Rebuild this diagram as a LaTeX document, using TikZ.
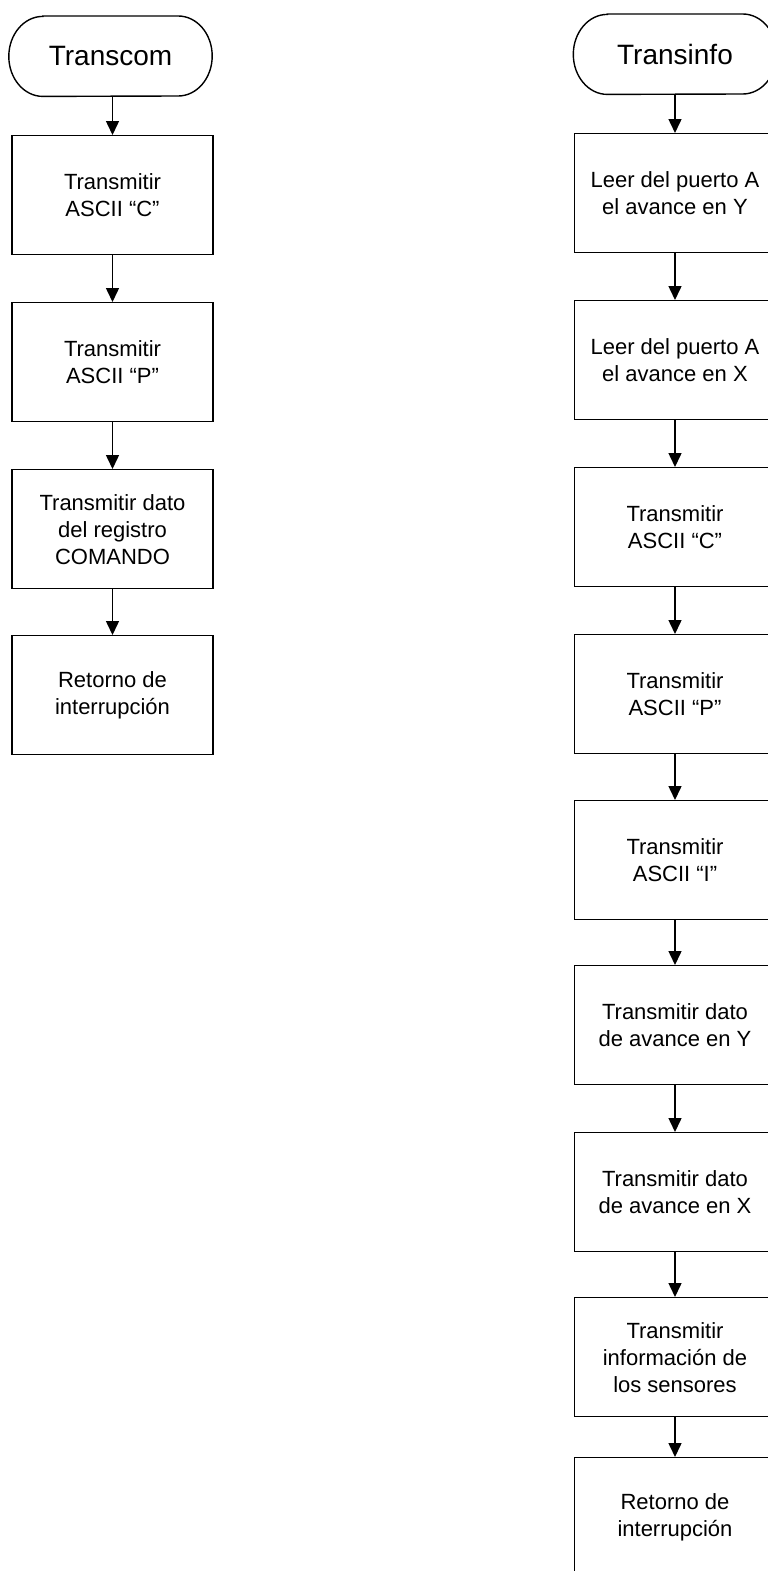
\documentclass[tikz,border=0pt]{standalone}
\usepackage{fontspec}
\setmainfont{Liberation Sans}
\usetikzlibrary{arrows.meta}
\begin{document}
\begin{tikzpicture}[x=1pt,y=-1pt,
  stepbox/.style={draw, line width=1.4pt, minimum width=201pt, minimum height=119pt,
    inner sep=0pt, anchor=north, align=center,
    font=\fontsize{22}{27}\selectfont},
  termbox/.style={minimum width=203pt, minimum height=80pt, inner sep=0pt,
    anchor=north, font=\fontsize{28}{30}\selectfont},
  termline/.style={line width=1.4pt},
  flow/.style={line width=1.5pt, -{Triangle[length=14pt,width=13pt]}}]
\useasboundingbox (0,0) rectangle (768,1571);
\clip (0,0) rectangle (768,1571);
\fill[white] (0,0) rectangle (768,1571);

% Transcom routine
\node[termbox] (t1) at (110.5,16) {Transcom};
\draw[termline] ([xshift=34pt]t1.north west) -- ([xshift=-34pt]t1.north east)
  arc[start angle=90, end angle=-90, x radius=34pt, y radius=40pt]
  -- ([xshift=34pt]t1.south west)
  arc[start angle=270, end angle=90, x radius=34pt, y radius=40pt] -- cycle;
\node[stepbox] (l1) at (112.5,135) {Transmitir\\ASCII “C”};
\node[stepbox] (l2) at (112.5,302) {Transmitir\\ASCII “P”};
\node[stepbox] (l3) at (112.5,469) {Transmitir dato\\del registro\\COMANDO};
\node[stepbox] (l4) at (112.5,635) {Retorno de\\interrupción};
\draw[flow] (t1.south -| l1.north) -- (l1.north);
\draw[flow] (l1.south) -- (l2.north);
\draw[flow] (l2.south) -- (l3.north);
\draw[flow] (l3.south) -- (l4.north);

% Transinfo routine
\node[termbox] (t2) at (675,14) {Transinfo};
\draw[termline] ([xshift=34pt]t2.north west) -- ([xshift=-34pt]t2.north east)
  arc[start angle=90, end angle=-90, x radius=34pt, y radius=40pt]
  -- ([xshift=34pt]t2.south west)
  arc[start angle=270, end angle=90, x radius=34pt, y radius=40pt] -- cycle;
\node[stepbox] (r1) at (675,133) {Leer del puerto A\\el avance en Y};
\node[stepbox] (r2) at (675,300) {Leer del puerto A\\el avance en X};
\node[stepbox] (r3) at (675,467) {Transmitir\\ASCII “C”};
\node[stepbox] (r4) at (675,634) {Transmitir\\ASCII “P”};
\node[stepbox] (r5) at (675,800) {Transmitir\\ASCII “I”};
\node[stepbox] (r6) at (675,965) {Transmitir dato\\de avance en Y};
\node[stepbox] (r7) at (675,1132) {Transmitir dato\\de avance en X};
\node[stepbox] (r8) at (675,1297) {Transmitir\\información de\\los sensores};
\node[stepbox] (r9) at (675,1457) {Retorno de\\interrupción};
\draw[flow] (t2.south) -- (r1.north);
\draw[flow] (r1.south) -- (r2.north);
\draw[flow] (r2.south) -- (r3.north);
\draw[flow] (r3.south) -- (r4.north);
\draw[flow] (r4.south) -- (r5.north);
\draw[flow] (r5.south) -- (r6.north);
\draw[flow] (r6.south) -- (r7.north);
\draw[flow] (r7.south) -- (r8.north);
\draw[flow] (r8.south) -- (r9.north);
\end{tikzpicture}
\end{document}
